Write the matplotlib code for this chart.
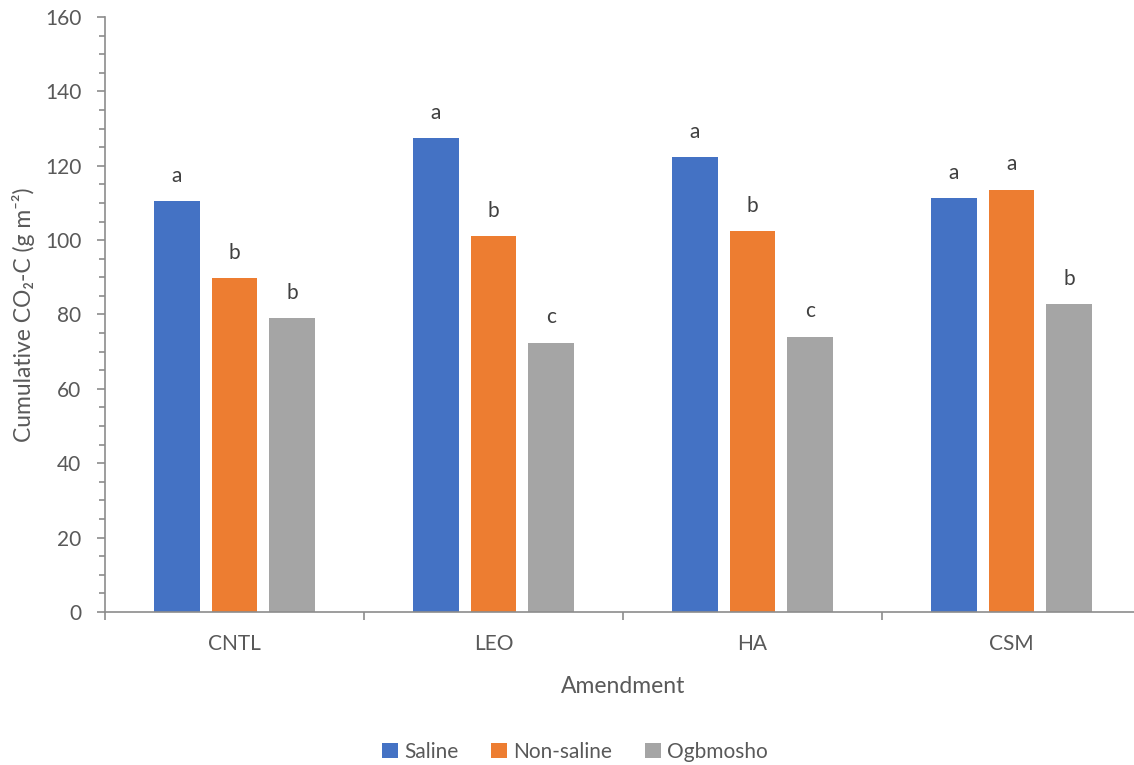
import numpy as np
from matplotlib import pyplot as plt
from matplotlib.ticker import MultipleLocator, FixedLocator

plt.rcParams["font.family"] = ["Lato", "DejaVu Sans"]

amendments = ["CNTL", "LEO", "HA", "CSM"]
soils = ["Saline", "Non-saline", "Ogbmosho"]
saline = [110.4, 127.4, 122.3, 111.2]
non_saline = [89.8, 101.1, 102.4, 113.6]
ogbmosho = [79.0, 72.4, 74.0, 82.8]
letters_saline = ["a", "a", "a", "a"]
letters_non_saline = ["b", "b", "b", "a"]
letters_ogbmosho = ["b", "c", "c", "b"]

series = [saline, non_saline, ogbmosho]
letters = [letters_saline, letters_non_saline, letters_ogbmosho]
colors = ["#4472C4", "#ED7D31", "#A5A5A5"]
txt = "#595959"
axcol = "#8C8C8C"

W, H = 1134, 765
fig = plt.figure(figsize=(W / 100, H / 100), dpi=100)
ax = fig.add_axes([105 / W, (H - 612) / H, 1036 / W, 595 / H])

x = np.arange(len(amendments))
width = 0.174
step = 0.222
for k, (vals, lab, c) in enumerate(zip(series, letters, colors)):
    xs = x + (k - 1) * step
    ax.bar(xs, vals, width, color=c, label=soils[k], zorder=2)
    for xi, v, l in zip(xs, vals, lab):
        ax.annotate(l, (xi, v), xytext=(0, 14), textcoords="offset points",
                    ha="center", va="baseline", fontsize=15, color="#404040")

ax.set_xlim(-0.5, 3.5)
ax.set_ylim(0, 160)
ax.yaxis.set_major_locator(MultipleLocator(20))
ax.yaxis.set_minor_locator(MultipleLocator(5))

ax.xaxis.set_major_locator(FixedLocator([-0.5, 0.5, 1.5, 2.5, 3.5]))
ax.xaxis.set_major_formatter(plt.NullFormatter())
ax.xaxis.set_minor_locator(FixedLocator(x))
ax.set_xticks(x, amendments, minor=True)

ax.tick_params(axis="y", which="major", length=6, width=1.2, color=axcol,
               labelsize=15, labelcolor=txt, pad=11)
ax.tick_params(axis="y", which="minor", length=4.5, width=1.2, color=axcol)
ax.tick_params(axis="x", which="major", length=6, width=1.2, color=axcol)
ax.tick_params(axis="x", which="minor", length=0, labelsize=15,
               labelcolor=txt, pad=16)

for s in ["top", "right"]:
    ax.spines[s].set_visible(False)
for s in ["left", "bottom"]:
    ax.spines[s].set_color(axcol)
    ax.spines[s].set_linewidth(1.2)

ax.set_xlabel("Amendment", fontsize=16.5, color=txt, labelpad=16)
ax.set_ylabel("Cumulative CO\u2082-C (g m\u207b\u00b2)", fontsize=16.5, color=txt, labelpad=7)

fig.legend(loc="center", bbox_to_anchor=(575 / W, 1 - 752 / H), ncol=3, frameon=False,
           fontsize=15, labelcolor=txt, handlelength=0.75, handleheight=0.75,
           handletextpad=0.3, columnspacing=1.6)

fig.savefig("out.png", dpi=100)
